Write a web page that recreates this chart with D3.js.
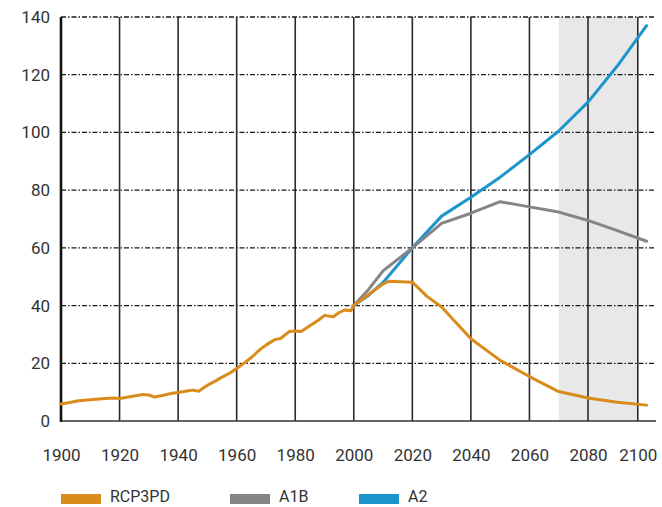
<!DOCTYPE html>
<html>
<head>
<meta charset="utf-8">
<script src="https://cdn.jsdelivr.net/npm/d3@7"></script>
<style>
  body { margin: 0; background: #fff; }
  text { font-family: Roboto, "Liberation Sans", sans-serif; fill: #333; }
</style>
</head>
<body>
<svg class="container"></svg>
<script>
// RCP3PD (historical + projection)
const rcpYears = [1900, 1903, 1906, 1910, 1914, 1918, 1920, 1924, 1928, 1930, 1932, 1935, 1938, 1940, 1943, 1945, 1947, 1950, 1953, 1955, 1958, 1960, 1963, 1965, 1968, 1970, 1973, 1975, 1978, 1980, 1982, 1985, 1988, 1990, 1993, 1995, 1997, 1999, 2000, 2005, 2010, 2012, 2020, 2025, 2030, 2040, 2050, 2060, 2070, 2080, 2090, 2100];
const rcpValues = [5.9, 6.4, 7.0, 7.4, 7.7, 8.0, 7.8, 8.5, 9.2, 9.0, 8.3, 8.9, 9.6, 9.9, 10.4, 10.7, 10.3, 12.4, 14.0, 15.2, 16.8, 18.2, 20.4, 22.0, 24.8, 26.3, 28.2, 28.6, 31.0, 31.2, 31.0, 33.0, 35.0, 36.6, 36.1, 37.6, 38.5, 38.2, 40.0, 43.8, 47.5, 48.4, 48.1, 43.2, 39.5, 28.5, 21.0, 15.4, 10.2, 8.0, 6.5, 5.5];

// A1B
const a1bYears = [2000, 2005, 2010, 2020, 2030, 2040, 2050, 2060, 2070, 2080, 2090, 2100];
const a1bValues = [40.0, 45.5, 52.0, 60.0, 68.5, 72.0, 76.0, 74.2, 72.4, 69.5, 66.0, 62.3];

// A2
const a2Years = [2000, 2005, 2010, 2020, 2030, 2040, 2050, 2060, 2070, 2080, 2090, 2100];
const a2Values = [40.0, 43.5, 48.0, 60.0, 71.0, 77.5, 84.5, 92.3, 100.5, 110.5, 123.0, 137.0];

// axis ticks (last gridline of the original sits a little left of 2100)
const xTickValues = [1900, 1920, 1940, 1960, 1980, 2000, 2020, 2040, 2060, 2080, 2097];
const xTickLabels = ["1900", "1920", "1940", "1960", "1980", "2000", "2020", "2040", "2060", "2080", "2100"];
const yTickValues = [0, 20, 40, 60, 80, 100, 120, 140];
const shadeRange = [2070, 2097];

const series = [
  { name: "RCP3PD", color: "#d98b1c", years: rcpYears, values: rcpValues },
  { name: "A1B", color: "#858585", years: a1bYears, values: a1bValues },
  { name: "A2", color: "#1b96cc", years: a2Years, values: a2Values }
];

const width = 662, height = 507;
const margin = { top: 17, right: 6, bottom: 86, left: 61 };

const svg = d3.select(".container")
  .attr("width", width)
  .attr("height", height);

const x = d3.scaleLinear()
  .domain([1900, 2080])
  .range([margin.left, 588]);
const y = d3.scaleLinear()
  .domain([0, 140])
  .range([height - margin.bottom, margin.top]);

const right = width - margin.right;

// shaded projection band
svg.append("rect")
  .attr("x", x(shadeRange[0]))
  .attr("y", y(140))
  .attr("width", x(shadeRange[1]) - x(shadeRange[0]))
  .attr("height", y(0) - y(140))
  .attr("fill", "#e8e8e8");

// vertical gridlines
svg.append("g")
  .selectAll("line")
  .data(xTickValues.slice(1))
  .join("line")
  .attr("x1", d => x(d))
  .attr("x2", d => x(d))
  .attr("y1", y(140))
  .attr("y2", y(0))
  .attr("stroke", "#2a2a2a")
  .attr("stroke-width", 1.6);

// horizontal dash-dot gridlines
svg.append("g")
  .selectAll("line")
  .data(yTickValues.slice(1))
  .join("line")
  .attr("x1", margin.left)
  .attr("x2", right)
  .attr("y1", d => y(d))
  .attr("y2", d => y(d))
  .attr("stroke", "#1a1a1a")
  .attr("stroke-width", 1.3)
  .attr("stroke-dasharray", "5,2,1.5,2");

// x axis
const xAxis = svg.append("g")
  .attr("transform", `translate(0, ${y(0)})`)
  .call(d3.axisBottom(x)
    .tickValues(xTickValues)
    .tickFormat((d, i) => xTickLabels[i])
    .tickSize(0)
    .tickPadding(28));
xAxis.select(".domain").remove();
xAxis.selectAll("text")
  .style("font-size", "17px")
  .attr("fill", "#333");
svg.append("line")
  .attr("x1", margin.left)
  .attr("x2", right)
  .attr("y1", y(0))
  .attr("y2", y(0))
  .attr("stroke", "#333")
  .attr("stroke-width", 1.6);

// y axis
const yAxis = svg.append("g")
  .attr("transform", `translate(${margin.left}, 0)`)
  .call(d3.axisLeft(y)
    .tickValues(yTickValues)
    .tickSize(0)
    .tickPadding(11));
yAxis.select(".domain").remove();
yAxis.selectAll("text")
  .style("font-size", "17px")
  .attr("fill", "#333");
svg.append("line")
  .attr("x1", margin.left)
  .attr("x2", margin.left)
  .attr("y1", y(140))
  .attr("y2", y(0) + 1)
  .attr("stroke", "#111")
  .attr("stroke-width", 2.6);

// series lines
const line = d3.line()
  .x(d => x(d[0]))
  .y(d => y(d[1]))
  .curve(d3.curveLinear);

svg.append("g")
  .selectAll("path")
  .data(series.slice().reverse())
  .join("path")
  .attr("d", s => line(d3.zip(s.years, s.values)))
  .attr("fill", "none")
  .attr("stroke", s => s.color)
  .attr("stroke-width", 3)
  .attr("stroke-linejoin", "round")
  .attr("stroke-linecap", "round");

// legend
const legendX = [61, 230, 359];
const legend = svg.append("g")
  .selectAll("g")
  .data(series)
  .join("g")
  .attr("transform", (d, i) => `translate(${legendX[i]}, 494)`);

legend.append("rect")
  .attr("width", 40)
  .attr("height", 10)
  .attr("fill", d => d.color);

legend.append("text")
  .attr("x", 49)
  .attr("y", 8)
  .style("font-size", "16px")
  .text(d => d.name);
</script>
</body>
</html>
